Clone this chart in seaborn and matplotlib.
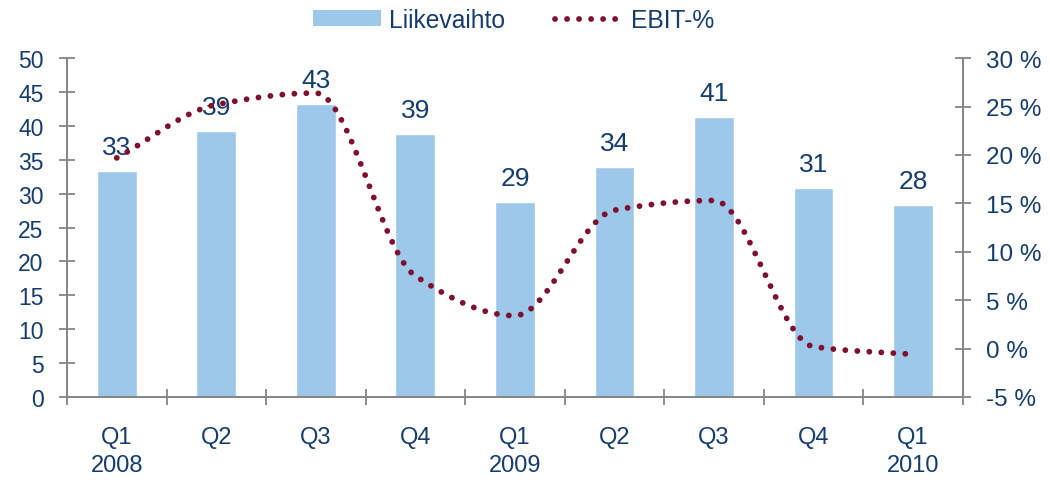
import numpy as np
import pandas as pd
import matplotlib
matplotlib.use("Agg")
import matplotlib.pyplot as plt
import seaborn as sns
from matplotlib.patches import Patch
from matplotlib.lines import Line2D

# Data
periods = ["2008Q1", "2008Q2", "2008Q3", "2008Q4", "2009Q1",
           "2009Q2", "2009Q3", "2009Q4", "2010Q1"]
tick_labels = ["Q1\n2008", "Q2", "Q3", "Q4", "Q1\n2009", "Q2", "Q3", "Q4", "Q1\n2010"]
liikevaihto = [33.4, 39.3, 43.2, 38.8, 28.8, 34.0, 41.3, 30.8, 28.3]
ebit_pct = [19.7, 25.2, 26.4, 7.5, 3.4, 14.3, 15.3, 0.2, -0.6]

bar_color = "#9DC8EA"
line_color = "#7F0F2F"
text_color = "#143D6E"
axis_color = "#868686"

sns.set_theme(style="white")
plt.rcParams["font.family"] = ["Liberation Sans", "DejaVu Sans"]


def smooth(y, n=30):
    # monotone cubic (Fritsch-Carlson) curve through the points, drawn as a smoothed line
    y = np.asarray(y, dtype=float)
    d = np.diff(y)
    m = np.zeros_like(y)
    for i in range(1, len(y) - 1):
        if d[i - 1] * d[i] > 0:
            m[i] = 2 / (1 / d[i - 1] + 1 / d[i])
    m[0] = d[0]
    m[-1] = d[-1]
    xs, ys = [], []
    t = np.linspace(0, 1, n, endpoint=False)
    h00 = 2 * t**3 - 3 * t**2 + 1
    h10 = t**3 - 2 * t**2 + t
    h01 = -2 * t**3 + 3 * t**2
    h11 = t**3 - t**2
    for i in range(len(y) - 1):
        xs.append(i + t)
        ys.append(h00 * y[i] + h10 * m[i] + h01 * y[i + 1] + h11 * m[i + 1])
    xs.append([len(y) - 1])
    ys.append([y[-1]])
    return np.concatenate(xs), np.concatenate(ys)


df = pd.DataFrame({"period": periods, "Liikevaihto": liikevaihto, "EBIT": ebit_pct})

fig, ax = plt.subplots(figsize=(10.5, 4.81), dpi=100)
fig.subplots_adjust(left=0.0638, right=0.917, top=0.877, bottom=0.1726)

sns.barplot(data=df, x="period", y="Liikevaihto", color=bar_color, width=0.4,
            saturation=1, ax=ax)
ax.bar_label(ax.containers[0], fmt="{:.0f}", padding=8.5, color=text_color, fontsize=19)

ax.set_ylim(0, 50)
ax.set_yticks(np.arange(0, 51, 5))
ax.set_xlim(-0.5, len(periods) - 0.5)
ax.set_xticks(range(len(periods)))
ax.set_xticklabels(tick_labels, linespacing=1.35)
ax.set_xticks(np.arange(-0.5, len(periods), 1), minor=True)
ax.set_xlabel("")
ax.set_ylabel("")
ax.tick_params(axis="x", which="major", length=0, pad=21, colors=text_color, labelsize=17)
ax.tick_params(axis="x", which="minor", length=11.5, direction="inout", width=1.3,
               color=axis_color, bottom=True)
ax.tick_params(axis="y", length=11.5, direction="inout", width=1.3, color=axis_color,
               labelcolor=text_color, labelsize=16.5, pad=11, left=True)

ax2 = ax.twinx()
sx, sy = smooth(df["EBIT"])
ax2.plot(sx, sy, color=line_color, linewidth=4.2, linestyle=(0, (0.01, 2.05)),
         dash_capstyle="round")
ax2.set_ylim(-5, 30)
ax2.set_yticks(np.arange(-5, 31, 5))
ax2.set_yticklabels([f"{v} %" for v in range(-5, 31, 5)])
ax2.tick_params(axis="y", length=11.5, direction="inout", width=1.3, color=axis_color,
                labelcolor=text_color, labelsize=17.5, pad=11, right=True)
ax2.grid(False)
ax.grid(False)

for a in (ax, ax2):
    a.spines["top"].set_visible(False)
    for s in ("left", "right", "bottom"):
        a.spines[s].set_color(axis_color)
        a.spines[s].set_linewidth(1.3)

handles = [Patch(facecolor=bar_color, edgecolor="none"),
           Line2D([0], [0], color=line_color, linewidth=4.2, linestyle=(0, (0.01, 2.05)),
                  dash_capstyle="round")]
leg = fig.legend(handles, ["Liikevaihto", "EBIT-%"], loc="upper center",
                 bbox_to_anchor=(0.489, 1.028), ncol=2, frameon=False, fontsize=17.7,
                 handlelength=2.77, handleheight=0.57, handletextpad=0.33,
                 columnspacing=2.03)
for t in leg.get_texts():
    t.set_color(text_color)

fig.savefig("out.png", dpi=100)
